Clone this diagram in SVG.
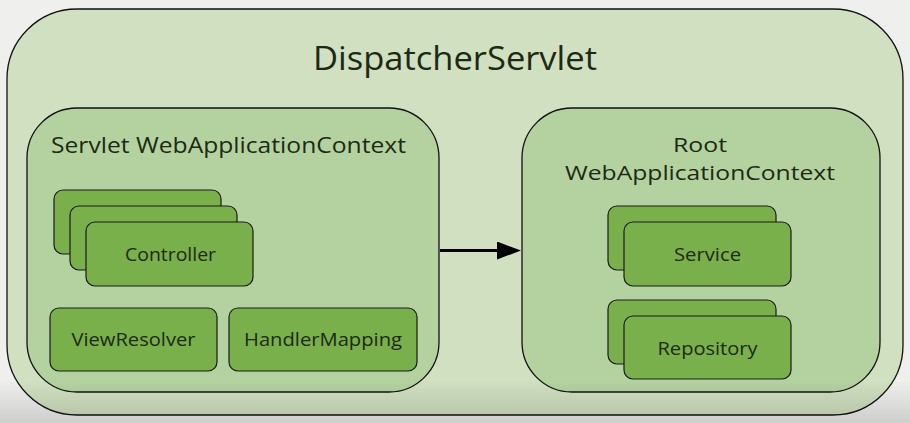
<svg xmlns="http://www.w3.org/2000/svg" width="910" height="423" viewBox="0 0 910 423">
  <defs>
    <linearGradient id="shade" x1="0" y1="0" x2="0" y2="1">
      <stop offset="0" stop-color="#000" stop-opacity="0"/>
      <stop offset="1" stop-color="#000" stop-opacity="0.14"/>
    </linearGradient>
    <marker id="arrow" markerWidth="8" markerHeight="6" refX="0" refY="3" orient="auto" markerUnits="strokeWidth">
      <path d="M0,0 L8,3 L0,6 Z" fill="#000"/>
    </marker>
    <style>
      text { font-family: "Open Sans", "Noto Sans", "Liberation Sans", sans-serif; fill: #1c2a14; }
      .outer { fill: #d1e0c1; stroke: #111; stroke-width: 1.3; }
      .ctx { fill: #b4d29f; stroke: #111; stroke-width: 1.3; }
      .box { fill: #79b04b; stroke: #1a1a1a; stroke-width: 1.2; }
      .lbl { font-size: 18.5px; text-anchor: middle; }
      .title { font-size: 33px; text-anchor: middle; }
      .ctxt { font-size: 22.5px; }
      .rctxt { font-size: 20.5px; text-anchor: middle; }
    </style>
  </defs>
  <rect x="0" y="0" width="910" height="423" fill="#efefed"/>
  <g id="dispatcher">
    <rect class="outer" x="7" y="9" width="896" height="406" rx="70" ry="70"/>
    <text class="title" x="455" y="70" textLength="284" lengthAdjust="spacingAndGlyphs">DispatcherServlet</text>
  </g>
  <g id="servlet-context">
    <rect class="ctx" x="27" y="108" width="412" height="284" rx="50" ry="50"/>
    <text class="ctxt" x="51" y="153" textLength="355" lengthAdjust="spacingAndGlyphs">Servlet WebApplicationContext</text>
  </g>
  <g id="controller">
    <rect class="box" x="54" y="190" width="167" height="64" rx="9"/>
    <rect class="box" x="70" y="206" width="167" height="64" rx="9"/>
    <rect class="box" x="86" y="222" width="167" height="64" rx="9"/>
    <text class="lbl" x="170.5" y="261" textLength="91" lengthAdjust="spacingAndGlyphs">Controller</text>
  </g>
  <g id="viewresolver">
    <rect class="box" x="50" y="308" width="167" height="63" rx="9"/>
    <text class="lbl" x="133.5" y="346" textLength="124" lengthAdjust="spacingAndGlyphs">ViewResolver</text>
  </g>
  <g id="handlermapping">
    <rect class="box" x="229" y="308" width="188" height="63" rx="9"/>
    <text class="lbl" x="323" y="346" textLength="158" lengthAdjust="spacingAndGlyphs">HandlerMapping</text>
  </g>
  <g id="root-context">
    <rect class="ctx" x="522" y="108" width="358" height="284" rx="50" ry="50"/>
    <text class="rctxt" x="700" y="152" textLength="54" lengthAdjust="spacingAndGlyphs">Root</text>
    <text class="rctxt" x="700" y="180" textLength="270" lengthAdjust="spacingAndGlyphs">WebApplicationContext</text>
  </g>
  <g id="service">
    <rect class="box" x="608" y="206" width="168" height="64" rx="9"/>
    <rect class="box" x="624" y="222" width="167" height="64" rx="9"/>
    <text class="lbl" x="707.5" y="261" textLength="67" lengthAdjust="spacingAndGlyphs">Service</text>
  </g>
  <g id="repository">
    <rect class="box" x="608" y="300" width="168" height="64" rx="9"/>
    <rect class="box" x="624" y="316" width="167" height="63" rx="9"/>
    <text class="lbl" x="707.5" y="355" textLength="100" lengthAdjust="spacingAndGlyphs">Repository</text>
  </g>
  <g id="connectors">
    <line x1="440" y1="250.5" x2="497" y2="250.5" stroke="#000" stroke-width="3" marker-end="url(#arrow)"/>
  </g>
  <rect x="0" y="380" width="910" height="43" fill="url(#shade)" pointer-events="none"/>
</svg>
